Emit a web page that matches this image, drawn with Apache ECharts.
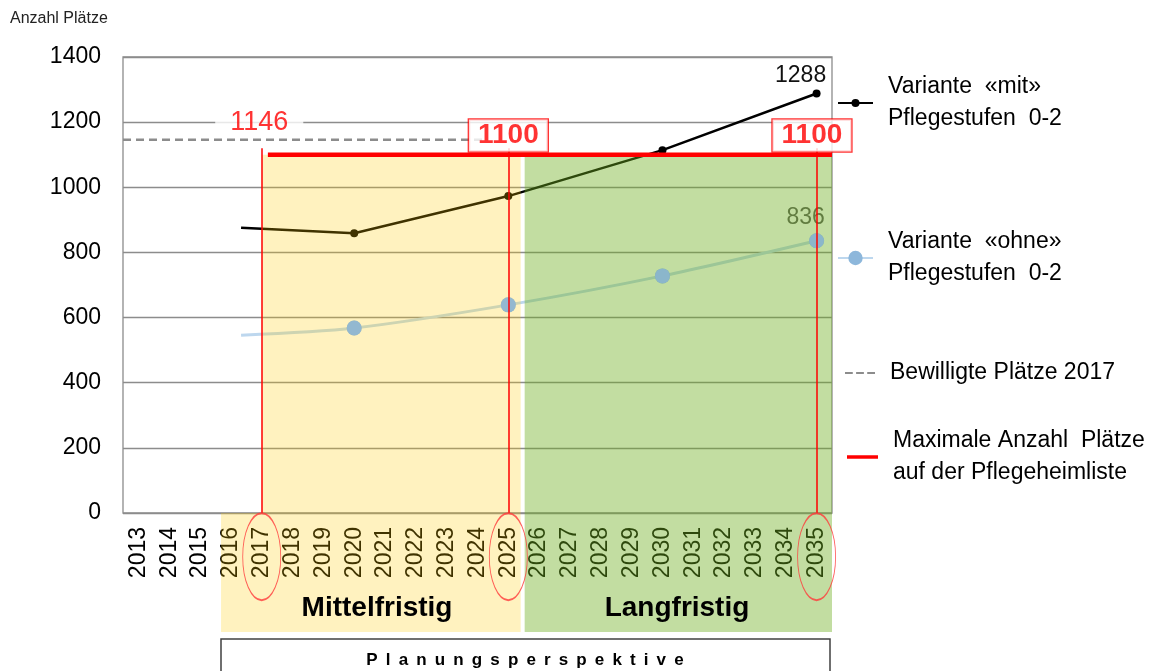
<!DOCTYPE html>
<html>
<head>
<meta charset="utf-8">
<title>Anzahl Plätze</title>
<script src="https://cdn.jsdelivr.net/npm/echarts@6/dist/echarts.min.js"></script>
<style>
  html, body { margin: 0; padding: 0; background: #fff; }
  #main { width: 1152px; height: 671px; }
</style>
</head>
<body>
<div id="main"></div>
<script>
// Daten
const years = ['2013', '2014', '2015', '2016', '2017', '2018', '2019', '2020', '2021', '2022', '2023', '2024',
  '2025', '2026', '2027', '2028', '2029', '2030', '2031', '2032', '2033', '2034', '2035'];
const pointYears = [2016.33, 2020, 2025, 2030, 2035];
const mitValues = [876, 859, 973, 1114, 1288];
const ohneValues = [546, 568, 639, 728, 836];
const bewilligt = 1146;          // Bewilligte Plätze 2017
const bewilligtRange = [2012.5, 2024.2];
const maxPlaetze = 1100;         // Maximale Anzahl Plätze
const maxRange = [2017.2, 2035.5];
const markYears = [2017, 2025, 2035];

const FONT = 'Liberation Sans, Arial, sans-serif';
const MIT = 'Variante  «mit»\nPflegestufen  0-2';
const OHNE = 'Variante  «ohne»\nPflegestufen  0-2';
const BEW = 'Bewilligte Plätze 2017';
const MAX = 'Maximale Anzahl  Plätze\nauf der Pflegeheimliste';

let chart = echarts.init(document.getElementById('main'));

const lastIdx = pointYears.length - 1;
const mitData = pointYears.map((x, i) => {
  if (i === 0) return {value: [x, mitValues[i]], symbol: 'none'};
  if (i === lastIdx) return {
    value: [x, mitValues[i]],
    label: {show: true, position: 'top', distance: 2, offset: [-16, 0], fontSize: 23, color: '#111'}
  };
  return [x, mitValues[i]];
});
const ohneData = pointYears.map((x, i) => {
  if (i === 0) return {value: [x, ohneValues[i]], symbol: 'none'};
  if (i === lastIdx) return {
    value: [x, ohneValues[i]],
    label: {show: true, position: 'top', distance: 4, offset: [-11, 0], fontSize: 23, color: '#595959'}
  };
  return [x, ohneValues[i]];
});

// Hintergrund Mittelfristig / Langfristig (halbtransparent über den Linien)
function renderPeriods(params, api) {
  const p = (x, y) => api.coord([x, y]);
  const bottom = -365;
  const yellow = [p(2017, maxPlaetze), p(2025.4, maxPlaetze), p(2025.4, bottom),
    p(2015.68, bottom), p(2015.68, 0), p(2017, 0)];
  const g0 = p(2025.53, maxPlaetze), g1 = p(2035.5, bottom);
  return {
    type: 'group',
    children: [
      {type: 'polygon', shape: {points: yellow}, style: {fill: 'rgba(255,204,0,0.25)'}},
      {type: 'rect', shape: {x: g0[0], y: g0[1], width: g1[0] - g0[0], height: g1[1] - g0[1]},
        style: {fill: 'rgba(110,175,30,0.42)'}}
    ]
  };
}

const legendText = {fontSize: 23, lineHeight: 32, color: '#000', padding: [0, 0, 0, 10]};

chart.setOption({
  animation: false,
  textStyle: {fontFamily: FONT},
  grid: {left: 123, right: 320, top: 57, bottom: 158, show: true, borderColor: '#8c8c8c', borderWidth: 1.3},
  xAxis: [{
    type: 'category',
    data: years,
    axisLine: {show: false},
    axisTick: {show: false},
    splitLine: {show: false},
    axisLabel: {rotate: 90, interval: 0, fontSize: 23, color: '#000', margin: 14}
  }, {
    type: 'value', min: 2012.5, max: 2035.5, show: false, splitLine: {show: false}
  }],
  yAxis: {
    type: 'value', min: 0, max: 1400, interval: 200,
    axisLine: {show: false},
    axisTick: {show: false},
    axisLabel: {fontSize: 23, color: '#000', margin: 22, formatter: v => String(v)},
    splitLine: {lineStyle: {color: '#8c8c8c', width: 1.3}}
  },
  legend: [{
    data: [MIT], left: 837, top: 71, padding: 0, itemWidth: 35, itemHeight: 10,
    textStyle: legendText
  }, {
    data: [OHNE], left: 837, top: 226, padding: 0, itemWidth: 35, itemHeight: 18,
    textStyle: legendText
  }, {
    data: [{name: BEW, icon: 'path://M0,0h7v2h-7zM10,0h7v2h-7zM20,0h7v2h-7z'}],
    left: 845, top: 357, padding: 0, itemWidth: 30, itemHeight: 3,
    textStyle: legendText
  }, {
    data: [{name: MAX, icon: 'rect'}], left: 847, top: 425, padding: 0, itemWidth: 31, itemHeight: 3.5,
    textStyle: legendText
  }],
  series: [{
    name: MIT, type: 'line', xAxisIndex: 1, z: 2,
    data: mitData,
    symbol: 'circle', symbolSize: 8,
    itemStyle: {color: '#000'},
    lineStyle: {color: '#000', width: 2.5}
  }, {
    name: OHNE, type: 'line', xAxisIndex: 1, z: 2, smooth: 0.3,
    data: ohneData,
    symbol: 'circle', symbolSize: 15,
    itemStyle: {color: '#8db7db'},
    lineStyle: {color: '#bdd7ee', width: 3}
  }, {
    name: BEW, type: 'line', xAxisIndex: 1, z: 2,
    data: bewilligtRange.map(x => [x, bewilligt]),
    symbol: 'none',
    itemStyle: {color: '#8c8c8c'},
    lineStyle: {color: '#8c8c8c', width: 2.5, type: [8, 5]}
  }, {
    type: 'custom', xAxisIndex: 1, z: 3,
    data: [[2020, 500]],
    renderItem: renderPeriods,
    silent: true
  }, {
    // Marker «ohne» liegen über dem Hintergrund
    name: OHNE, type: 'scatter', xAxisIndex: 1, z: 5,
    data: pointYears.slice(1).map((x, i) => [x, ohneValues[i + 1]]),
    symbol: 'circle', symbolSize: 15,
    itemStyle: {color: '#8db7db'}
  }, {
    name: MAX, type: 'line', xAxisIndex: 1, z: 6,
    data: maxRange.map(x => [x, maxPlaetze]),
    symbol: 'none',
    itemStyle: {color: '#ff0000'},
    lineStyle: {color: '#ff0000', width: 4.5}
  }, {
    type: 'lines', coordinateSystem: 'cartesian2d', xAxisIndex: 1, z: 6,
    data: markYears.map(x => ({coords: [[x, 1120], [x, 0]]})),
    lineStyle: {color: '#ff0000', width: 1.5, opacity: 1},
    silent: true
  }, {
    // Ellipsen um die Jahre
    type: 'scatter', xAxisIndex: 1, z: 6, clip: false,
    data: markYears.map(x => [x, -134]),
    symbol: 'circle', symbolSize: [38, 87],
    itemStyle: {color: 'rgba(0,0,0,0)', borderColor: '#ff3b3b', borderWidth: 1.3},
    silent: true
  }, {
    // Label 1146
    type: 'scatter', xAxisIndex: 1, z: 7,
    data: [[2016.92, 1200]],
    symbolSize: 0,
    label: {
      show: true, position: 'inside', formatter: () => String(bewilligt),
      fontSize: 27, color: '#ff0000', backgroundColor: '#fff', padding: [0, 15]
    },
    silent: true
  }, {
    // Kästchen 1100
    type: 'scatter', xAxisIndex: 1, z: 7,
    data: [[2025, 1159], [2034.85, 1159]],
    symbolSize: 0,
    label: {
      show: true, position: 'inside', formatter: () => String(maxPlaetze),
      fontSize: 28, fontWeight: 'bold', color: '#ff0000', backgroundColor: '#fff',
      borderColor: '#ff0000', borderWidth: 1.3, padding: [2, 9]
    },
    silent: true
  }],
  graphic: [{
    type: 'text', left: 10, top: 11, z: 10,
    style: {text: 'Anzahl Plätze', fontSize: 16, fontFamily: FONT, fill: '#222'}
  }, {
    type: 'text', x: 377, y: 608, z: 10,
    style: {text: 'Mittelfristig', fontSize: 28, fontWeight: 'bold', fontFamily: FONT, fill: '#000',
      align: 'center', verticalAlign: 'middle'}
  }, {
    type: 'text', x: 677, y: 608, z: 10,
    style: {text: 'Langfristig', fontSize: 28, fontWeight: 'bold', fontFamily: FONT, fill: '#000',
      align: 'center', verticalAlign: 'middle'}
  }, {
    type: 'rect', z: 10,
    shape: {x: 221, y: 639, width: 609, height: 50},
    style: {fill: '#fff', stroke: '#404040', lineWidth: 1.5}
  }, {
    type: 'text', x: 525, y: 660, z: 11,
    style: {text: 'Planungsperspektive'.split('').join(' \u2009'), fontSize: 17, fontWeight: 'bold',
      fontFamily: FONT, fill: '#000', align: 'center', verticalAlign: 'middle'}
  }]
});
</script>
</body>
</html>
